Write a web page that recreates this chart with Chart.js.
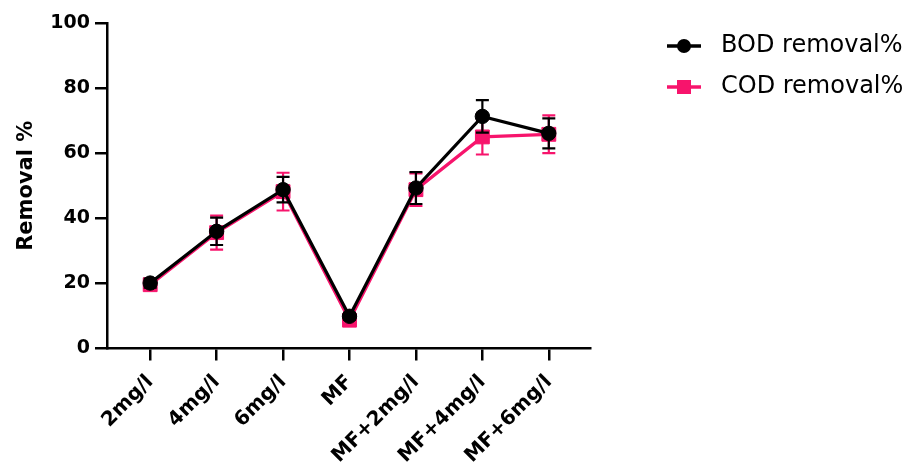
<!DOCTYPE html>
<html>
<head>
<meta charset="utf-8">
<script src="https://cdn.jsdelivr.net/npm/chart.js@4/dist/chart.umd.min.js"></script>
<style>
  html, body { margin: 0; padding: 0; background: #ffffff; }
  #wrap { width: 910px; height: 463px; }
</style>
</head>
<body>
<div id="wrap"><canvas id="chart" width="910" height="463"></canvas></div>
<script>
// Treatments on the x axis
const categories = ['2mg/l', '4mg/l', '6mg/l', 'MF', 'MF+2mg/l', 'MF+4mg/l', 'MF+6mg/l'];

// Mean removal (%) and error (±) for each treatment
const bodRemoval = [20.1, 36.0, 48.8, 9.9, 49.3, 71.3, 66.1];
const bodError   = [1.4, 4.2, 3.9, 1.0, 4.9, 5.0, 4.6];
const codRemoval = [19.6, 35.6, 48.2, 8.7, 48.8, 65.0, 65.8];
const codError   = [1.2, 5.2, 5.8, 1.1, 5.0, 5.4, 5.8];

// y axis ticks
const yTicks = [0, 20, 40, 60, 80, 100];

const seriesNames = ['BOD removal%', 'COD removal%'];

const PINK = '#f7146c';
const BLACK = '#000000';
const FONT = "'DejaVu Sans', 'Liberation Sans', sans-serif";

// Legend symbols: a short line with the series marker on it
function legendSymbol(color, shape) {
  const c = document.createElement('canvas');
  c.width = 36; c.height = 18;
  const g = c.getContext('2d');
  g.strokeStyle = color; g.lineWidth = 3.5;
  g.beginPath(); g.moveTo(1, 9); g.lineTo(35, 9); g.stroke();
  g.fillStyle = color;
  if (shape === 'circle') {
    g.beginPath(); g.arc(18, 9, 7, 0, Math.PI * 2); g.fill();
  } else {
    g.fillRect(11, 2, 14, 14);
  }
  return c;
}
const legendSymbols = [legendSymbol(BLACK, 'circle'), legendSymbol(PINK, 'rect')];

// Vertical error bars with caps, drawn under each series' line and markers
const errorBars = {
  id: 'errorBars',
  beforeDatasetDraw(chart, args) {
    const ds = chart.data.datasets[args.index];
    if (!ds.errors) return;
    const ctx = chart.ctx, xs = chart.scales.x, ys = chart.scales.y;
    ctx.save();
    ctx.strokeStyle = ds.borderColor;
    ctx.lineWidth = 2.2;
    ds.data.forEach((p, i) => {
      const e = ds.errors[i];
      const px = xs.getPixelForValue(p.x);
      const top = ys.getPixelForValue(p.y + e);
      const bot = ys.getPixelForValue(p.y - e);
      const cap = 6.5;
      ctx.beginPath();
      ctx.moveTo(px, top); ctx.lineTo(px, bot);
      ctx.moveTo(px - cap, top); ctx.lineTo(px + cap, top);
      ctx.moveTo(px - cap, bot); ctx.lineTo(px + cap, bot);
      ctx.stroke();
    });
    ctx.restore();
  }
};

// Fixed legend width so the plot keeps its place; legend box moved to its spot
const legendPlacement = {
  id: 'legendPlacement',
  beforeLayout(chart) {
    const lg = chart.legend;
    if (lg && !lg._fixedWidth) {
      const fit = lg.fit;
      lg.fit = function () { fit.call(this); this.width = 320; };
      lg._fixedWidth = true;
    }
  },
  afterLayout(chart) {
    const lg = chart.legend;
    if (!lg) return;
    const w = lg.width, h = lg.height;
    lg.left = 642; lg.top = 17;
    lg.right = lg.left + w; lg.bottom = lg.top + h;
  }
};

const toPoints = arr => arr.map((v, i) => ({ x: i, y: v }));

new Chart(document.getElementById('chart'), {
  type: 'line',
  data: {
    datasets: [
      {
        label: seriesNames[0],
        data: toPoints(bodRemoval),
        errors: bodError,
        borderColor: BLACK,
        backgroundColor: BLACK,
        borderWidth: 3.2,
        pointStyle: 'circle',
        pointRadius: 7.2,
        pointBorderWidth: 1,
        pointBackgroundColor: BLACK,
        pointBorderColor: BLACK,
        tension: 0
      },
      {
        label: seriesNames[1],
        data: toPoints(codRemoval),
        errors: codError,
        borderColor: PINK,
        backgroundColor: PINK,
        borderWidth: 3.2,
        pointStyle: 'rect',
        pointRadius: 9.8,
        pointBorderWidth: 1,
        pointBackgroundColor: PINK,
        pointBorderColor: PINK,
        tension: 0
      }
    ]
  },
  options: {
    responsive: false,
    animation: false,
    devicePixelRatio: 1,
    clip: false,
    layout: { padding: { left: 0, top: 23, right: 0, bottom: 0 } },
    plugins: {
      tooltip: { enabled: false },
      legend: {
        display: true,
        position: 'right',
        align: 'start',
        labels: {
          usePointStyle: true,
          pointStyleWidth: 50,
          padding: 17,
          color: BLACK,
          font: { family: FONT, size: 24 },
          generateLabels(chart) {
            const items = Chart.defaults.plugins.legend.labels.generateLabels(chart);
            items.forEach((it, i) => { it.pointStyle = legendSymbols[i]; });
            return items;
          }
        }
      }
    },
    scales: {
      x: {
        type: 'linear',
        min: -0.65,
        max: 6.62,
        afterBuildTicks(scale) {
          scale.ticks = categories.map((_, i) => ({ value: i }));
        },
        afterFit(scale) { scale.height = 463 - 348.5; },
        grid: {
          display: true,
          drawOnChartArea: false,
          drawTicks: true,
          tickLength: 12,
          color: BLACK,
          lineWidth: 2.5
        },
        border: { display: true, color: BLACK, width: 2.5 },
        ticks: {
          autoSkip: false,
          maxRotation: 45,
          minRotation: 45,
          padding: 10,
          color: BLACK,
          font: { family: FONT, size: 20, weight: 'bold' },
          callback: v => categories[v]
        }
      },
      y: {
        min: 0,
        max: 100,
        afterBuildTicks(scale) {
          scale.ticks = yTicks.map(v => ({ value: v }));
        },
        afterFit(scale) { scale.width = 107; },
        grid: {
          display: true,
          drawOnChartArea: false,
          drawTicks: true,
          tickLength: 12,
          color: BLACK,
          lineWidth: 2.5
        },
        border: { display: true, color: BLACK, width: 2.5 },
        ticks: {
          padding: 5,
          color: BLACK,
          font: { family: FONT, size: 19, weight: 'bold' }
        },
        title: {
          display: true,
          text: 'Removal %',
          color: BLACK,
          padding: { top: 14, bottom: 0 },
          font: { family: FONT, size: 21, weight: 'bold' }
        }
      }
    }
  },
  plugins: [errorBars, legendPlacement]
});
</script>
</body>
</html>
